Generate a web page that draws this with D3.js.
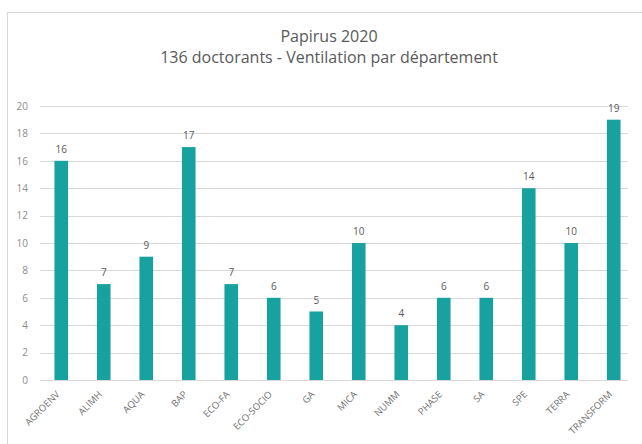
<!DOCTYPE html>
<html>
<head>
<meta charset="utf-8">
<script src="https://cdn.jsdelivr.net/npm/d3@7"></script>
<style>
  body { margin: 0; background: #fff; }
  text { font-family: "Open Sans", sans-serif; }
</style>
</head>
<body>
<div id="chart"></div>
<script>
// departments and number of PhD students
const departments = ['AGROENV', 'ALIMH', 'AQUA', 'BAP', 'ECO-FA', 'ECO-SOCIO', 'GA',
  'MICA', 'NUMM', 'PHASE', 'SA', 'SPE', 'TERRA', 'TRANSFORM'];
const counts = [16, 7, 9, 17, 7, 6, 5, 10, 4, 6, 6, 14, 10, 19];
const yTicks = [0, 2, 4, 6, 8, 10, 12, 14, 16, 18, 20];

const width = 642;
const height = 444;
const margin = { top: 106, right: 7, bottom: 64, left: 40 };

const svg = d3.select('#chart')
    .append('svg')
    .attr('width', width)
    .attr('height', height);

// chart frame
svg.append('rect')
    .attr('x', 7.5).attr('y', 12.5)
    .attr('width', 660).attr('height', 460)
    .attr('fill', '#fff')
    .attr('stroke', '#d9d9d9');

// title
svg.append('text')
    .attr('x', 329).attr('y', 42)
    .attr('text-anchor', 'middle')
    .attr('font-size', 16)
    .attr('fill', '#595959')
    .text('Papirus 2020');
svg.append('text')
    .attr('x', 329).attr('y', 63)
    .attr('text-anchor', 'middle')
    .attr('font-size', 16)
    .attr('fill', '#595959')
    .text('136 doctorants - Ventilation par département');

const x = d3.scaleBand()
    .domain(departments)
    .range([margin.left, width - margin.right])
    .paddingInner(0.68)
    .paddingOuter(0.34);

const y = d3.scaleLinear()
    .domain([0, 20])
    .range([height - margin.bottom, margin.top]);

// gridlines
svg.append('g')
    .selectAll('line')
    .data(yTicks)
    .enter().append('line')
    .attr('x1', margin.left)
    .attr('x2', 628)
    .attr('y1', d => Math.round(y(d)) + 0.5)
    .attr('y2', d => Math.round(y(d)) + 0.5)
    .attr('stroke', '#d9d9d9');

// y axis labels
svg.append('g')
    .attr('transform', `translate(${margin.left},0)`)
    .call(d3.axisLeft(y).tickValues(yTicks).tickSize(0).tickPadding(12))
    .call(g => g.select('.domain').remove())
    .call(g => g.selectAll('text')
        .attr('font-family', '"Open Sans", sans-serif')
        .attr('font-size', 10)
        .attr('fill', '#8c8c8c'));

// bars
const data = departments.map((d, i) => ({ dept: d, n: counts[i] }));
svg.selectAll('.bar')
    .data(data)
    .enter().append('rect')
    .attr('class', 'bar')
    .attr('x', d => x(d.dept))
    .attr('y', d => y(d.n))
    .attr('width', x.bandwidth())
    .attr('height', d => y(0) - y(d.n))
    .attr('fill', '#17a29f');

// value labels
svg.selectAll('.val')
    .data(data)
    .enter().append('text')
    .attr('class', 'val')
    .attr('x', d => x(d.dept) + x.bandwidth() / 2)
    .attr('y', d => y(d.n) - 8)
    .attr('text-anchor', 'middle')
    .attr('font-size', 10)
    .attr('fill', '#595959')
    .text(d => d.n);

// x axis
svg.append('g')
    .attr('transform', `translate(0,${y(0)})`)
    .call(d3.axisBottom(x).tickSize(0).tickPadding(0))
    .call(g => g.select('.domain').remove())
    .call(g => g.selectAll('text')
        .attr('font-family', '"Open Sans", sans-serif')
        .attr('font-size', 9.5)
        .attr('fill', '#6f6f6f')
        .attr('text-anchor', 'end')
        .attr('dy', '0.3em')
        .attr('transform', 'translate(-3,13) rotate(-45)'));
</script>
</body>
</html>
